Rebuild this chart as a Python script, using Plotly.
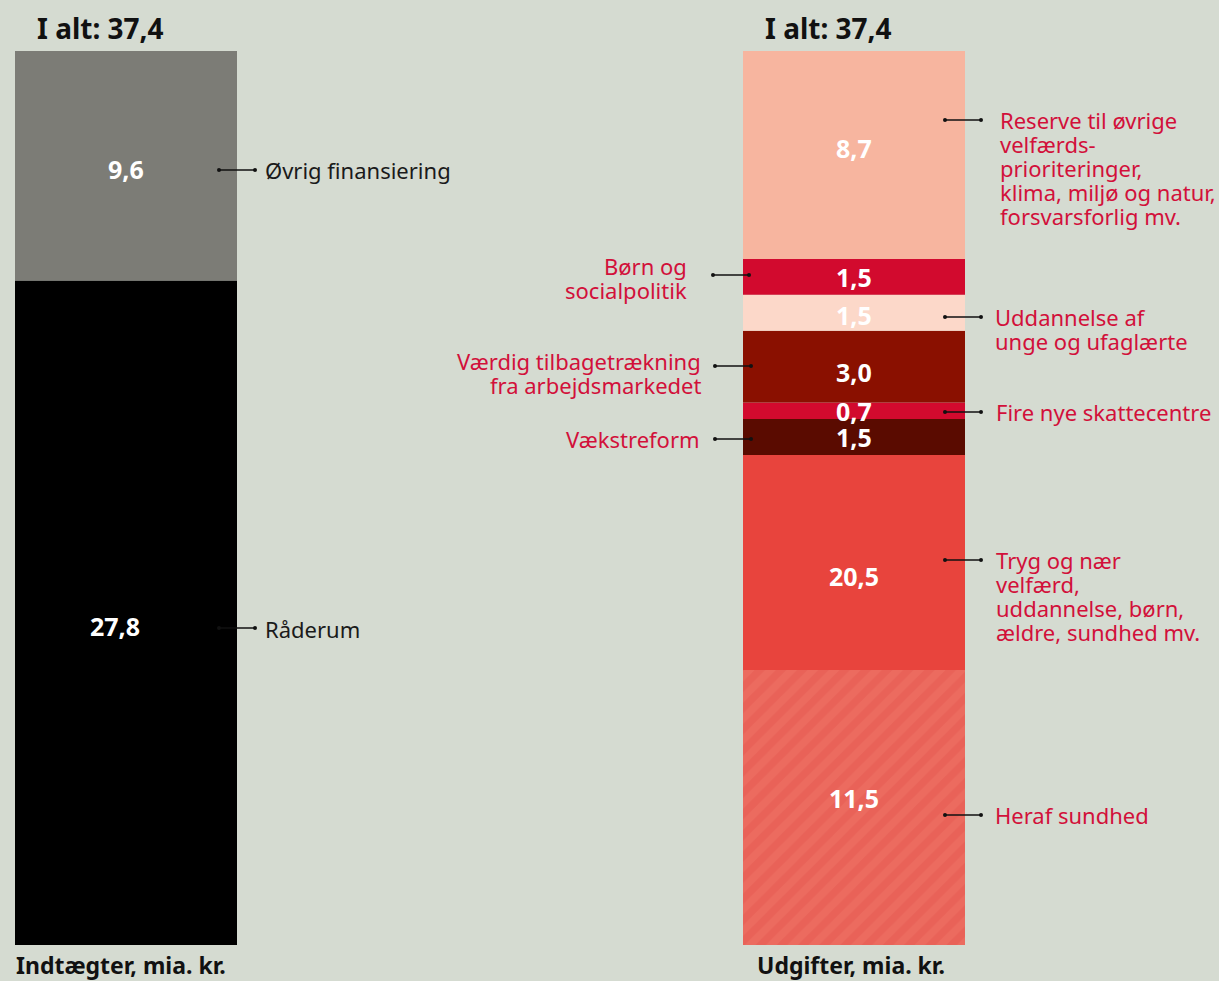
import plotly.graph_objects as go

# Indtægter (bund til top)
income_labels = ["Råderum", "Øvrig finansiering"]
income_values = [27.8, 9.6]

# Udgifter (bund til top)
expense_labels = [
    "Tryg og nær<br>velfærd,<br>uddannelse, børn,<br>ældre, sundhed mv.",
    "Vækstreform",
    "Fire nye skattecentre",
    "Værdig tilbagetrækning<br>fra arbejdsmarkedet",
    "Uddannelse af<br>unge og ufaglærte",
    "Børn og<br>socialpolitik",
    "Reserve til øvrige<br>velfærds-<br>prioriteringer,<br>klima, miljø og natur,<br>forsvarsforlig mv.",
]
expense_values = [20.5, 1.5, 0.7, 3.0, 1.5, 1.5, 8.7]
health_label = "Heraf sundhed"
health_value = 11.5

income_title = "Indtægter, mia. kr."
expense_title = "Udgifter, mia. kr."

BG = "#d5dbd1"
RED_TXT = "#d2103a"
FONT = "Noto Sans"
income_colors = ["#000000", "#7c7c76"]
expense_colors = ["#e8443d", "#5a0b00", "#d20a2e", "#8a1000", "#fcd8c9", "#d20a2e", "#f7b59f"]

W, H = 1219, 981
TOP, BOT = 51, 36
total = round(sum(expense_values), 1)
ppu = (H - TOP - BOT) / total


def yv(px):
    # pixel row -> data value
    return (H - BOT - px) / ppu


def yp(px):
    # pixel row -> paper coordinate
    return (H - BOT - px) / (H - TOP - BOT)


def fmt(v):
    return f"{v:.1f}".replace(".", ",")


XL, XR, BW = 126, 854, 222

fig = go.Figure()

# left bar
base = 0
for lab, v, c in zip(income_labels, income_values, income_colors):
    fig.add_trace(go.Bar(x=[XL], y=[v], base=[base], width=BW, marker=dict(color=c, line=dict(width=0)),
                         showlegend=False, hoverinfo="skip"))
    base += v

# right bar: hatched health part + rest of the first segment
fig.add_trace(go.Bar(x=[XR], y=[health_value], base=[0], width=BW,
                     marker=dict(color="#ec6b5f", line=dict(width=0),
                                 pattern=dict(shape="/", fgcolor="#e55a52", bgcolor="#ec6b5f",
                                              size=15, solidity=0.5)),
                     showlegend=False, hoverinfo="skip"))
fig.add_trace(go.Bar(x=[XR], y=[expense_values[0] - health_value], base=[health_value], width=BW,
                     marker=dict(color=expense_colors[0], line=dict(width=0)),
                     showlegend=False, hoverinfo="skip"))
base = expense_values[0]
exp_bases = [0]
for v, c in zip(expense_values[1:], expense_colors[1:]):
    exp_bases.append(base)
    fig.add_trace(go.Bar(x=[XR], y=[v], base=[base], width=BW, marker=dict(color=c, line=dict(width=0)),
                         showlegend=False, hoverinfo="skip"))
    base += v

annots = []
val_font = dict(color="white", size=25, family=FONT)

# value labels inside bars (small nudges to sit like the original)
inc_shift = [(-11, -13), (0, -3)]
b = 0
for v, (dx, dy) in zip(income_values, inc_shift):
    annots.append(dict(x=XL, y=b + v / 2, text=f"<b>{fmt(v)}</b>", showarrow=False,
                       xshift=dx, yshift=dy, font=val_font))
    b += v
exp_shift = [-13, 0, 0, -5, -2, 0, 7]
for i, v in enumerate(expense_values):
    if i == 0:
        yc = health_value + (v - health_value) / 2
    else:
        yc = exp_bases[i] + v / 2
    annots.append(dict(x=XR, y=yc, text=f"<b>{fmt(v)}</b>", showarrow=False,
                       yshift=exp_shift[i], font=val_font))
annots.append(dict(x=XR, y=health_value / 2, text=f"<b>{fmt(health_value)}</b>", showarrow=False,
                   font=val_font, yshift=10))

# side labels: (text, text x, xanchor, first line px, connector x0, x1, connector px, colour)
side = [
    (income_labels[1], 263, "left", 170, 219, 255, 170, "#1a1a1a"),
    (income_labels[0], 263, "left", 629, 219, 255, 628, "#1a1a1a"),
    (expense_labels[6], 998, "left", 120, 945, 981, 120, RED_TXT),
    (expense_labels[5], 689, "right", 266, 713, 749, 275, RED_TXT),
    (expense_labels[4], 993, "left", 317, 945, 981, 317, RED_TXT),
    (expense_labels[3], 703, "right", 361, 715, 751, 366, RED_TXT),
    (expense_labels[2], 994, "left", 412, 945, 981, 412, RED_TXT),
    (expense_labels[1], 702, "right", 439, 715, 751, 439, RED_TXT),
    (expense_labels[0], 994, "left", 560, 945, 981, 560, RED_TXT),
    (health_label, 993, "left", 815, 945, 981, 815, RED_TXT),
]
LINE_H = 24
for text, tx, anc, ty, x0, x1, cy, col in side:
    fig.add_trace(go.Scatter(x=[x0, x1], y=[yv(cy), yv(cy)], mode="lines+markers",
                             line=dict(color="#111111", width=1.5),
                             marker=dict(color="#111111", size=4),
                             showlegend=False, hoverinfo="skip", cliponaxis=False))
    for k, line in enumerate(text.split("<br>")):
        annots.append(dict(x=tx, y=yv(ty + k * LINE_H), text=line, showarrow=False,
                           xanchor=anc, yanchor="middle", align=anc,
                           font=dict(color=col, size=22, family=FONT)))

# titles
for bx in (XL, XR):
    annots.append(dict(x=bx - 91, y=yp(28), yref="paper", text=f"<b>I alt: {fmt(total)}</b>",
                       showarrow=False, xanchor="left", yanchor="middle",
                       font=dict(color="#111111", size=28, family=FONT)))
annots.append(dict(x=XL - 5, y=yp(965), yref="paper", text=f"<b>{income_title}</b>", showarrow=False,
                   yanchor="middle", font=dict(color="#111111", size=23, family=FONT)))
annots.append(dict(x=XR - 3, y=yp(965), yref="paper", text=f"<b>{expense_title}</b>", showarrow=False,
                   yanchor="middle", font=dict(color="#111111", size=23, family=FONT)))

fig.update_layout(
    width=W, height=H,
    barmode="overlay",
    paper_bgcolor=BG, plot_bgcolor=BG,
    margin=dict(l=0, r=0, t=TOP, b=BOT),
    font=dict(family=FONT),
    xaxis=dict(range=[0, W], visible=False, fixedrange=True),
    yaxis=dict(range=[0, total], visible=False, fixedrange=True),
    annotations=annots,
)

fig.write_html("out.html", config={"displayModeBar": False},
               post_script="document.body.style.margin='0px';document.body.style.overflow='hidden';")
